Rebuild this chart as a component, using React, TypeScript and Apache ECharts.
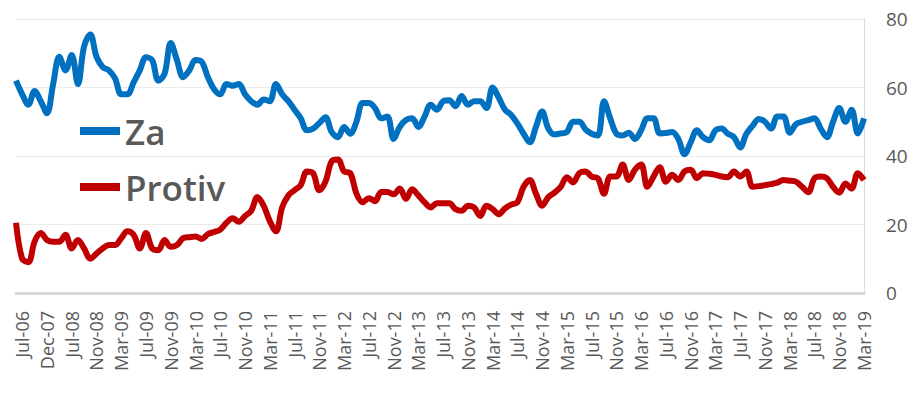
import React, { useEffect, useRef } from "react";
import * as echarts from "echarts";

const earlyCategories = ["Jun-06", "Jul-06", "Sep-06", "Dec-06", "Apr-07", "Dec-07", "Feb-08", "Apr-08", "Jun-08"];
const monthNames = ["Jan", "Feb", "Mar", "Apr", "May", "Jun", "Jul", "Aug", "Sep", "Oct", "Nov", "Dec"];

function buildMonthly(): string[] {
  const out: string[] = [];
  let y = 2008;
  let m = 6; // Jul
  while (y < 2019 || (y === 2019 && m <= 2)) {
    out.push(`${monthNames[m]}-${String(y % 100).padStart(2, "0")}`);
    m++;
    if (m === 12) { m = 0; y++; }
  }
  return out;
}

const categories: string[] = [...earlyCategories, ...buildMonthly()];

const zaValues = [
  62, 58, 55, 59, 56, 52.5, 61, 69, 65, 69.5,
  61, 72, 75.5, 69, 66, 65, 62.7, 58, 58, 61.5,
  65, 68.8, 68, 62, 64, 73, 68, 63, 65, 68,
  67.5, 63, 59.5, 58, 61, 60.5, 61, 58, 56, 55,
  56.5, 56, 61, 58, 56, 53.5, 51, 47.5, 48, 49.6,
  51.3, 47, 45.5, 48.5, 46.5, 50, 55.5, 55.5, 54, 51,
  51.5, 45, 48.5, 50.5, 51, 48.5, 51.5, 55, 53.5, 56,
  56.3, 54.5, 57.5, 55, 56, 56, 54, 60, 57, 53.5,
  52, 49.5, 46.5, 44, 48.5, 53, 48, 46.3, 46.6, 47,
  50, 50, 47.8, 46.5, 46, 56, 51, 46.5, 46, 46.8,
  45, 47.5, 51, 51, 46.6, 46.7, 47, 45, 40.5, 44,
  47.5, 45.5, 44.6, 47.5, 48, 46.5, 45.5, 42.5, 46.5, 48.8,
  50.8, 50, 48, 51.5, 51.5, 46.8, 49.3, 50, 50.5, 51,
  48, 45.5, 50, 54, 50, 53.5, 46.6, 51,
];

const protivValues = [
  20.5, 10, 9, 15, 17.5, 15.5, 15, 15, 17, 13,
  15.5, 13, 10, 11.5, 13, 14, 14, 16, 18, 17,
  13, 17.5, 13, 12.5, 15.5, 13.5, 14, 16, 16.3, 16.5,
  15.8, 17.2, 17.8, 18.5, 20.5, 21.8, 20.8, 22.5, 24, 28,
  25.5, 21, 18, 25, 28.5, 30, 31.5, 35.5, 35, 30,
  32.5, 38.5, 39, 35.5, 35, 29, 26.5, 27.7, 26.8, 29.5,
  29.5, 28.8, 30.5, 27.5, 30.3, 28.5, 26.5, 25, 26.2, 26.2,
  26.2, 24.5, 24, 25.5, 25, 22.5, 25.5, 24.5, 23, 24.7,
  25.8, 26.5, 31, 33, 29, 25.5, 28, 29.3, 31, 33.8,
  32.3, 35, 35.5, 34, 33.5, 29, 34, 34, 37.5, 33,
  36, 37.5, 31, 34, 36.7, 32.5, 34.5, 33, 35.5, 36,
  33.5, 35, 34.8, 34.5, 34, 33.8, 35.5, 34, 35.5, 31,
  31.2, 31.5, 31.8, 32.2, 33, 32.8, 32.5, 31, 29.4, 33.5,
  34, 33.5, 31, 29.3, 32, 30.5, 35, 33,
];

const yTicks = { min: 0, max: 80, interval: 20 };

export default function App() {
  const ref = useRef<HTMLDivElement>(null);

  useEffect(() => {
    if (!ref.current) return;
    const chart = echarts.init(ref.current, undefined, { renderer: "svg" });
    const font = "'Open Sans', 'Liberation Sans', sans-serif";
    chart.setOption({
      animation: false,
      backgroundColor: "#ffffff",
      grid: { left: 16, right: 48, top: 19, bottom: 103, containLabel: false },
      legend: {
        orient: "vertical",
        left: 80,
        top: 111,
        padding: 0,
        itemGap: 16,
        itemWidth: 40,
        itemHeight: 8,
        icon: "rect",
        textStyle: {
          fontFamily: font,
          fontSize: 35,
          fontWeight: 600,
          color: "#595959",
          lineHeight: 40,
        },
        data: ["Za", "Protiv"],
      },
      xAxis: {
        type: "category",
        data: categories,
        boundaryGap: false,
        axisLine: { show: true, lineStyle: { color: "#d9d9d9", width: 3 } },
        axisTick: { show: false },
        axisLabel: {
          rotate: 90,
          interval: (index: number) => index % 4 === 1,
          color: "#595959",
          fontFamily: font,
          fontSize: 18,
          margin: 18,
        },
        splitLine: { show: false },
      },
      yAxis: {
        type: "value",
        position: "right",
        min: yTicks.min,
        max: yTicks.max,
        interval: yTicks.interval,
        axisLine: { show: true, lineStyle: { color: "#d9d9d9", width: 1 } },
        axisTick: { show: false },
        axisLabel: {
          color: "#595959",
          fontFamily: font,
          fontSize: 19,
          margin: 22,
        },
        splitLine: { show: true, lineStyle: { color: "#ececec", width: 1 } },
      },
      series: [
        {
          name: "Za",
          type: "line",
          data: zaValues,
          smooth: 0.35,
          showSymbol: false,
          symbol: "none",
          lineStyle: { color: "#0070C0", width: 6 },
          itemStyle: { color: "#0070C0" },
        },
        {
          name: "Protiv",
          type: "line",
          data: protivValues,
          smooth: 0.35,
          showSymbol: false,
          symbol: "none",
          lineStyle: { color: "#C00000", width: 6 },
          itemStyle: { color: "#C00000" },
        },
      ],
    });
    return () => chart.dispose();
  }, []);

  return (
    <div
      ref={ref}
      style={{ position: "fixed", left: 0, top: 0, width: 912, height: 396 }}
    />
  );
}
